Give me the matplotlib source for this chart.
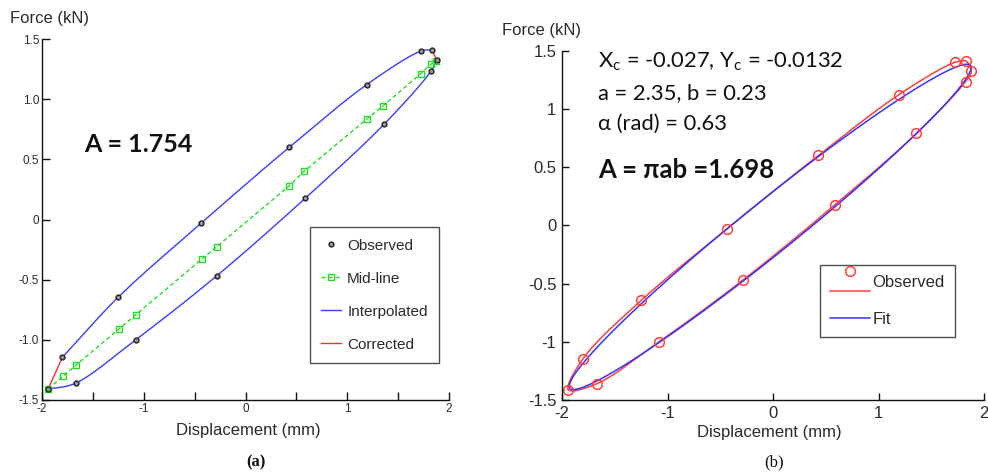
import numpy as np
import matplotlib
matplotlib.use("Agg")
import matplotlib.pyplot as plt
from matplotlib.lines import Line2D
from matplotlib.legend_handler import HandlerBase

# Observed force-displacement points, in loop order (loading branch, then unloading)
obs_x = [-1.94, -1.80, -1.25, -0.435, 0.43, 1.19, 1.725, 1.83, 1.88,
         1.825, 1.36, 0.585, -0.285, -1.08, -1.67]
obs_y = [-1.41, -1.145, -0.645, -0.03, 0.60, 1.12, 1.40, 1.41, 1.325,
         1.235, 0.79, 0.175, -0.47, -1.0, -1.36]

# Mid-line between the two branches
mid_x = [-1.94, -1.79, -1.666, -1.243, -1.076, -0.43, -0.283, 0.43, 0.575,
         1.19, 1.354, 1.72, 1.823, 1.87]
mid_y = [-1.406, -1.30, -1.21, -0.91, -0.79, -0.33, -0.226, 0.28, 0.40,
         0.833, 0.946, 1.21, 1.29, 1.32]

# Ellipse fit parameters
xc, yc = -0.027, -0.0132
a_axis, b_axis = 2.35, 0.23
alpha_rad = 0.63
area_measured = 1.754

# Tick labels
left_yticks = [-1.5, -1.0, -0.5, 0.0, 0.5, 1.0, 1.5]
left_yticklabels = ["-1.5", "-1.0", "-0.5", "0", "0.5", "1.0", "1.5"]
right_yticklabels = ["-1.5", "-1", "-0.5", "0", "0.5", "1", "1.5"]
xticks = [-2, -1, 0, 1, 2]
xticklabels = ["-2", "-1", "0", "1", "2"]


def catmull_rom(px, py, closed=False, n=40):
    """Centripetal Catmull-Rom curve through the given points."""
    P = np.column_stack([px, py]).astype(float)
    if closed:
        P = np.vstack([P[-1], P, P[0], P[1]])
    else:
        P = np.vstack([2 * P[0] - P[1], P, 2 * P[-1] - P[-2]])
    pts = []
    for i in range(len(P) - 3):
        p0, p1, p2, p3 = P[i:i + 4]
        t0 = 0.0
        t1 = t0 + np.linalg.norm(p1 - p0) ** 0.5 + 1e-9
        t2 = t1 + np.linalg.norm(p2 - p1) ** 0.5 + 1e-9
        t3 = t2 + np.linalg.norm(p3 - p2) ** 0.5 + 1e-9
        t = np.linspace(t1, t2, n)[:, None]
        A1 = (t1 - t) / (t1 - t0) * p0 + (t - t0) / (t1 - t0) * p1
        A2 = (t2 - t) / (t2 - t1) * p1 + (t - t1) / (t2 - t1) * p2
        A3 = (t3 - t) / (t3 - t2) * p2 + (t - t2) / (t3 - t2) * p3
        B1 = (t2 - t) / (t2 - t0) * A1 + (t - t0) / (t2 - t0) * A2
        B2 = (t3 - t) / (t3 - t1) * A2 + (t - t1) / (t3 - t1) * A3
        C = (t2 - t) / (t2 - t1) * B1 + (t - t1) / (t2 - t1) * B2
        pts.append(C)
    C = np.vstack(pts)
    return C[:, 0], C[:, 1]


W, H = 988, 474
fig = plt.figure(figsize=(W / 100, H / 100), dpi=100)
plt.rcParams["mathtext.fontset"] = "custom"
plt.rcParams["mathtext.rm"] = "Lato"


def fx(px):
    return px / W


def fy(py):
    return 1 - py / H


txt_col = "#2a2a2a"

# ---------------- panel (a) ----------------
ax1 = fig.add_axes([fx(42), fy(400), (449 - 42) / W, (400 - 39) / H])
ox = np.array(obs_x)
oy = np.array(obs_y)

# interpolated branches
ux, uy = catmull_rom(ox[1:8], oy[1:8])
lx, ly = catmull_rom(np.r_[ox[8:], ox[0]], np.r_[oy[8:], oy[0]])
interp_col = "#3a3aff"
ax1.plot(ux, uy, color=interp_col, lw=1.0)
h_interp, = ax1.plot(lx, ly, color=interp_col, lw=1.0)

# corrected end segments
corr_col = "#ff2a2a"
ax1.plot([ox[0], ox[1]], [oy[0], oy[1]], color=corr_col, lw=1.0)
h_corr, = ax1.plot([ox[7], ox[8]], [oy[7], oy[8]], color=corr_col, lw=1.0)

h_mid, = ax1.plot(mid_x, mid_y, ls=(0, (3, 2)), color="#22dd22", lw=1.0,
                  marker="s", ms=5, mfc="none", mec="#22dd22", mew=1.0)
h_obs, = ax1.plot(ox, oy, ls="none", marker="o", ms=3.5, mfc="#999999",
                  mec="#222222", mew=1.0)

ax1.set_xlim(-2, 2)
ax1.set_ylim(-1.5, 1.5)
for s in ("top", "right"):
    ax1.spines[s].set_visible(False)
for s in ("left", "bottom"):
    ax1.spines[s].set_color("#111111")
    ax1.spines[s].set_linewidth(1.0)
ax1.set_xticks(xticks)
ax1.set_xticks([-1.5, -0.5, 0.5, 1.5], minor=True)
ax1.set_yticks(left_yticks)
tick_font = dict(family=["Liberation Sans Narrow", "Liberation Sans"], size=8.5)
ax1.set_xticklabels(xticklabels, fontdict=tick_font, color=txt_col)
ax1.set_yticklabels(left_yticklabels, fontdict=tick_font, color=txt_col)
ax1.tick_params(which="both", direction="in", length=6, width=1.0,
                color="#111111", pad=2)

leg1 = ax1.legend([h_obs, h_mid, h_interp, h_corr],
                  ["Observed", "Mid-line", "Interpolated", "Corrected"],
                  loc="upper left", bbox_to_anchor=(0.658, 0.479),
                  borderaxespad=0, fancybox=False, frameon=True,
                  prop=dict(family="Liberation Sans", size=11),
                  handlelength=1.3, handletextpad=0.4, labelspacing=1.25,
                  borderpad=0.75, labelcolor=txt_col)
leg1.get_frame().set_edgecolor("#222222")
leg1.get_frame().set_linewidth(1.0)

fig.text(fx(10), fy(18), "Force (kN)", ha="left", va="center",
         family="Liberation Sans", size=12, color=txt_col)
fig.text(fx(248), fy(430), "Displacement (mm)", ha="center", va="center",
         family="Liberation Sans", size=12, color=txt_col)
fig.text(fx(256), fy(462), "(a)", ha="center", va="center",
         family="Liberation Serif", weight="bold", size=12, color="#111111")
fig.text(fx(84), fy(144), f"A = {area_measured:.3f}", ha="left", va="center",
         family="Lato", weight="bold", size=18, color="#111111")

# ---------------- panel (b) ----------------
ax2 = fig.add_axes([fx(562), fy(400), (984 - 562) / W, (400 - 50.7) / H])

rx, ry = catmull_rom(ox, oy, closed=True)
red_col = "#ff3c3c"
blue_col = "#3434ff"
h_rline, = ax2.plot(rx, ry, color=red_col, lw=1.1)

t = np.linspace(0, 2 * np.pi, 400)
ex = xc + a_axis * np.cos(t) * np.cos(alpha_rad) - b_axis * np.sin(t) * np.sin(alpha_rad)
ey = yc + a_axis * np.cos(t) * np.sin(alpha_rad) + b_axis * np.sin(t) * np.cos(alpha_rad)
h_fit, = ax2.plot(ex, ey, color=blue_col, lw=1.1)

h_rpts, = ax2.plot(ox, oy, ls="none", marker="o", ms=7, mfc="none",
                   mec=red_col, mew=1.1)

ax2.set_xlim(-2, 2)
ax2.set_ylim(-1.5, 1.5)
for s in ("top", "right"):
    ax2.spines[s].set_visible(False)
for s in ("left", "bottom"):
    ax2.spines[s].set_color("#111111")
    ax2.spines[s].set_linewidth(1.0)
ax2.set_xticks(xticks)
ax2.set_yticks(left_yticks)
tick_font2 = dict(family="Liberation Sans", size=12)
ax2.set_xticklabels(xticklabels, fontdict=tick_font2, color=txt_col)
ax2.set_yticklabels(right_yticklabels, fontdict=tick_font2, color=txt_col)
ax2.tick_params(direction="in", length=5, width=1.0, color="#111111", pad=4)


class ObservedHandler(HandlerBase):
    def create_artists(self, legend, orig_handle, xdescent, ydescent,
                       width, height, fontsize, trans):
        yc_ = height / 2 - ydescent
        mk = Line2D([-xdescent + width / 2], [yc_ + 0.6 * fontsize],
                    ls="none", marker="o", ms=7, mfc="none",
                    mec=red_col, mew=1.1, transform=trans)
        ln = Line2D([-xdescent, -xdescent + width],
                    [yc_ - 0.6 * fontsize] * 2, color=red_col, lw=1.1,
                    transform=trans)
        return [mk, ln]


leg2 = ax2.legend([h_rpts, h_fit], ["Observed", "Fit"],
                  handler_map={h_rpts: ObservedHandler()},
                  loc="upper left", bbox_to_anchor=(0.611, 0.386),
                  borderaxespad=0, fancybox=False, frameon=True,
                  prop=dict(family="Liberation Sans", size=12),
                  handlelength=2.4, handletextpad=0.15, labelspacing=1.3,
                  borderpad=0.6, labelcolor=txt_col)
leg2.get_frame().set_edgecolor("#222222")
leg2.get_frame().set_linewidth(1.0)

fig.text(fx(502), fy(30), "Force (kN)", ha="left", va="center",
         family="Liberation Sans", size=12, color=txt_col)
fig.text(fx(769), fy(432), "Displacement (mm)", ha="center", va="center",
         family="Liberation Sans", size=12, color=txt_col)
fig.text(fx(774), fy(462), "(b)", ha="center", va="center",
         family="Liberation Serif", size=12, color="#111111")

ann_font = dict(family=["Lato", "DejaVu Sans"], size=15.8, color="#111111")
fig.text(fx(598), fy(62),
         rf"X$_\mathrm{{c}}$ = {xc:.3f}, Y$_\mathrm{{c}}$ = {yc:.4f}",
         ha="left", va="center", **ann_font)
fig.text(fx(598), fy(93), f"a = {a_axis:.2f}, b = {b_axis:.2f}",
         ha="left", va="center", **ann_font)
fig.text(fx(598), fy(124), f"\u03b1 (rad) = {alpha_rad:.2f}",
         ha="left", va="center", **ann_font)
area_fit = np.pi * a_axis * b_axis
fig.text(fx(598), fy(170), f"A = \u03c0ab ={area_fit:.3f}", ha="left",
         va="center", family=["Lato", "DejaVu Sans"], weight="bold",
         size=18.5, color="#111111")

fig.savefig("out.png", dpi=100)
